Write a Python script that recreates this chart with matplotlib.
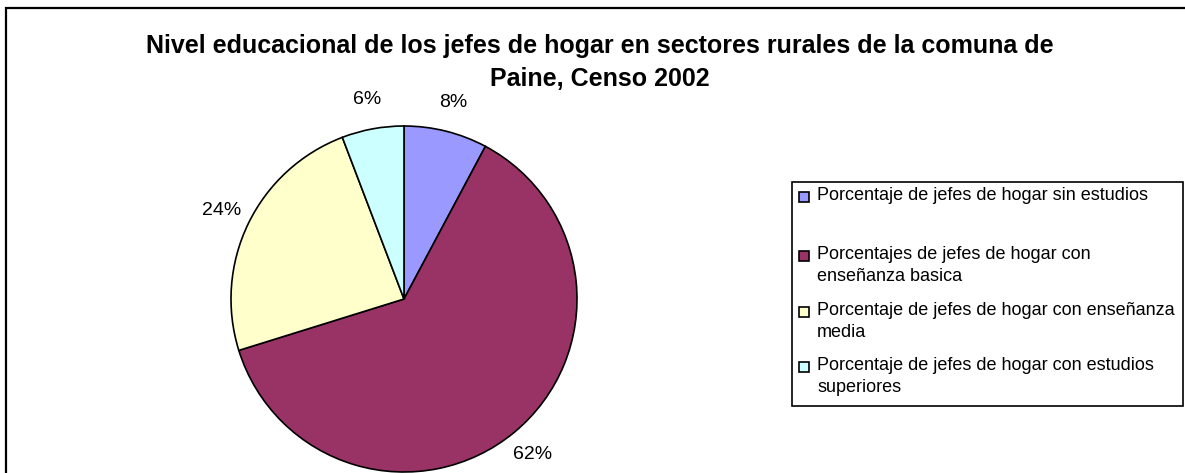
import matplotlib
matplotlib.use('Agg')
import matplotlib.pyplot as plt
from matplotlib.patches import Rectangle

plt.rcParams['font.family'] = ['Liberation Sans', 'DejaVu Sans']

# data
categorias = ['Porcentaje de jefes de hogar sin estudios',
              'Porcentajes de jefes de hogar con\nenseñanza basica',
              'Porcentaje de jefes de hogar con enseñanza\nmedia',
              'Porcentaje de jefes de hogar con estudios\nsuperiores']
valores = [7.8, 62.4, 24.0, 5.8]
etiquetas = ['8%', '62%', '24%', '6%']
colores = ['#9999FF', '#993366', '#FFFFCC', '#CCFFFF']

W, H = 1185, 473
fig = plt.figure(figsize=(W / 100, H / 100), dpi=100)

# outer frame of the chart area
fig.patches.append(Rectangle((6 / W, -0.1), 1.2, 1 - 8 / H + 0.1, transform=fig.transFigure,
                             fill=False, edgecolor='black', linewidth=1.6))

fig.text(600 / W, 1 - 46 / H, 'Nivel educacional de los jefes de hogar en sectores rurales de la comuna de',
         ha='center', va='center', fontsize=18, fontweight='bold')
fig.text(600 / W, 1 - 79 / H, 'Paine, Censo 2002',
         ha='center', va='center', fontsize=18, fontweight='bold')

cx, cy, r = 404, 299, 173
ax = fig.add_axes([(cx - r) / W, (H - cy - r) / H, 2 * r / W, 2 * r / H])
wedges, textos = ax.pie(valores, labels=etiquetas, colors=colores, startangle=90, counterclock=False,
                        labeldistance=1.17,
                        wedgeprops=dict(edgecolor='black', linewidth=1.2),
                        textprops=dict(fontsize=14))
for t in textos:
    t.set_horizontalalignment('center')
    t.set_verticalalignment('center')
ax.set_xlim(-1, 1)
ax.set_ylim(-1, 1)
ax.set_aspect('equal')
ax.axis('off')

# legend box
lx0, ly0, lx1, ly1 = 792, 182, 1183, 406
fig.patches.append(Rectangle((lx0 / W, 1 - ly1 / H), (lx1 - lx0) / W, (ly1 - ly0) / H,
                             transform=fig.transFigure, fill=False, edgecolor='black', linewidth=1.2))
fila_y = [197, 256, 312, 367]
for i in range(len(categorias)):
    y = fila_y[i]
    fig.patches.append(Rectangle((799 / W, 1 - (y + 5) / H), 10 / W, 10 / H, transform=fig.transFigure,
                                 facecolor=colores[i], edgecolor='black', linewidth=1.2))
    fig.text(817 / W, 1 - (y - 10) / H, categorias[i], ha='left', va='top', fontsize=13,
             linespacing=1.35)

fig.savefig('out.png', dpi=100)
